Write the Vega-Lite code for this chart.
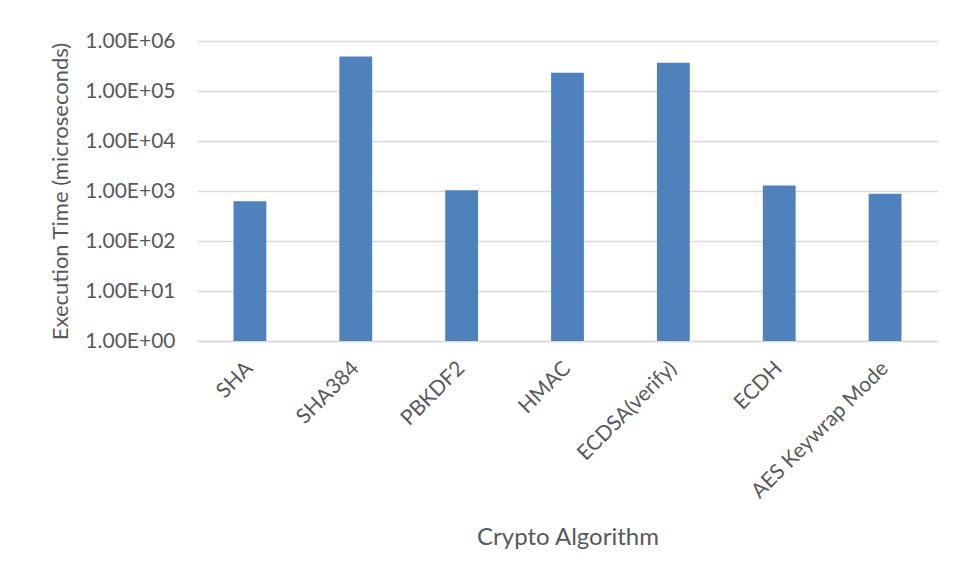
{
  "$schema": "https://vega.github.io/schema/vega-lite/v6.json",
  "width": 741,
  "height": 300,
  "autosize": "none",
  "padding": {"left": 197, "top": 41, "right": 15, "bottom": 238},
  "background": "white",
  "data": {
    "values": [
      {"algorithm": "SHA", "time": 625},
      {"algorithm": "SHA384", "time": 490000},
      {"algorithm": "PBKDF2", "time": 1037},
      {"algorithm": "HMAC", "time": 231000},
      {"algorithm": "ECDSA(verify)", "time": 366000},
      {"algorithm": "ECDH", "time": 1288},
      {"algorithm": "AES Keywrap Mode", "time": 879}
    ]
  },
  "mark": {"type": "bar", "color": "#4f81bd"},
  "encoding": {
    "x": {
      "field": "algorithm",
      "type": "nominal",
      "sort": null,
      "title": "Crypto Algorithm",
      "scale": {"paddingInner": 0.69, "paddingOuter": 0.345},
      "axis": {
        "labelAngle": -45,
        "labelAlign": "right",
        "labelBaseline": "middle",
        "labelPadding": 24,
        "labelLimit": 400,
        "ticks": false,
        "domainColor": "#d9d9d9",
        "domainWidth": 1.5,
        "titlePadding": 24,
        "titleFontSize": 24
      }
    },
    "y": {
      "field": "time",
      "type": "quantitative",
      "title": "Execution Time (microseconds)",
      "scale": {"type": "log", "domain": [1, 1000000], "nice": false},
      "axis": {
        "values": [1, 10, 100, 1000, 10000, 100000, 1000000],
        "labelExpr": "'1.00E+0' + round(log(datum.value) / LN10)",
        "ticks": false,
        "domain": false,
        "gridColor": "#d9d9d9",
        "gridWidth": 1.5,
        "labelPadding": 22,
        "titlePadding": 12
      }
    },
    "y2": {"datum": 1}
  },
  "config": {
    "view": {"stroke": null},
    "axis": {
      "labelFont": "Lato",
      "titleFont": "Lato",
      "labelFontSize": 21,
      "titleFontSize": 22,
      "labelColor": "#595959",
      "titleColor": "#595959",
      "titleFontWeight": "normal"
    }
  }
}
